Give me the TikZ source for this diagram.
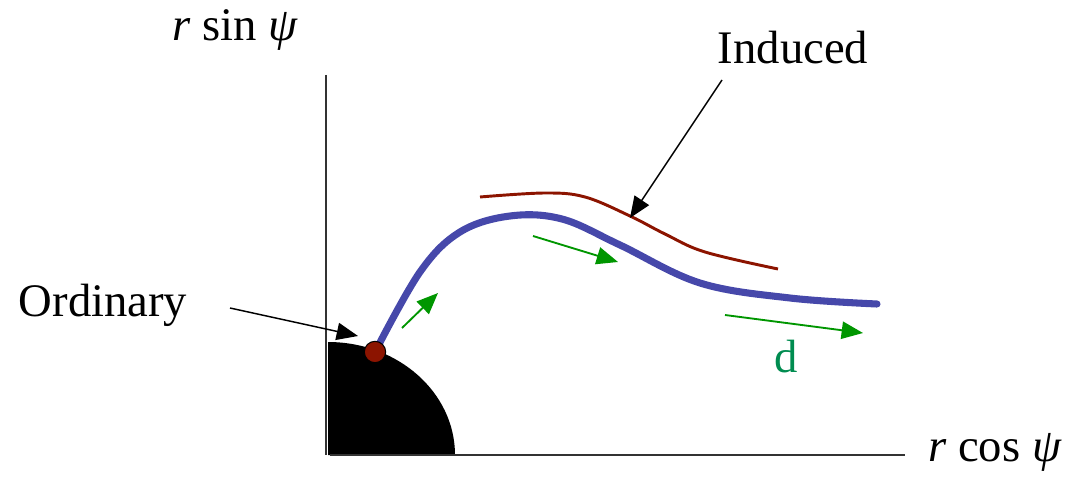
\documentclass[tikz,border=0pt]{standalone}
\usepackage{fontspec}
\setmainfont{Liberation Serif}
\usetikzlibrary{arrows.meta}
\definecolor{pathblue}{RGB}{70,72,170}
\definecolor{pathred}{RGB}{140,20,0}
\definecolor{dirgreen}{RGB}{0,150,0}
\definecolor{dgreen}{RGB}{0,140,80}
\tikzset{
  lbl/.style   = {inner sep=0pt, font=\fontsize{35}{40}\selectfont},
  axis/.style  = {line width=1.1pt, black!80},
  pointer/.style = {line width=1.1pt, -{Triangle[length=16pt, width=13pt]}},
  dir/.style   = {dirgreen, line width=1.4pt, -{Triangle[length=16pt, width=13pt]}},
}
\begin{document}
\begin{tikzpicture}[x=0.75pt, y=-0.75pt]
  \useasboundingbox (0,0) rectangle (1075,478);
  % region and axes
  \fill (328,455) -- (328,342) arc[start angle=-90, end angle=0, x radius=127, y radius=113] -- cycle;
  \draw[axis] (326,75) -- (326,455);
  \draw[axis] (330,455) -- (905,455);
  % axis labels
  \node[lbl] (ylab) at (235,30) {\textit{r} sin \textit{ψ}};
  \node[lbl] (xlab) at (995,452) {\textit{r} cos \textit{ψ}};
  % paths
  \draw[pathblue, line width=5.3pt, line cap=round] plot[smooth, tension=0.6] coordinates
    {(375,352) (420,272) (460,232) (510,216) (562,219) (620,245) (700,283) (790,298) (877,304)};
  \draw[pathred, line width=2.2pt] plot[smooth, tension=0.6] coordinates
    {(480,197) (545,193) (585,197) (630,216) (665,234) (705,252) (778,269)};
  \node[circle, draw, line width=0.8pt, fill=pathred, minimum size=16pt, inner sep=0pt] (start) at (375,352) {};
  % labels and pointers
  \node[lbl] (ord) at (103,305) {Ordinary};
  \node[lbl] (ind) at (793,48) {Induced};
  \coordinate (ordtail) at (230,308);
  \coordinate (ordtip)  at (358,336);
  \coordinate (indtail) at (722,80);
  \coordinate (indtip)  at (630,218);
  \draw[pointer] (ordtail) -- (ordtip);
  \draw[pointer] (indtail) -- (indtip);
  % direction arrows
  \coordinate (a1) at (402,328);  \coordinate (b1) at (438,293);
  \coordinate (a2) at (533,236);  \coordinate (b2) at (618,262);
  \coordinate (a3) at (725,315);  \coordinate (b3) at (863,333);
  \draw[dir] (a1) -- (b1);
  \draw[dir] (a2) -- (b2);
  \draw[dir] (a3) -- (b3);
  \node[lbl, text=dgreen] (dlab) at (786,357) {d};
\end{tikzpicture}
\end{document}
